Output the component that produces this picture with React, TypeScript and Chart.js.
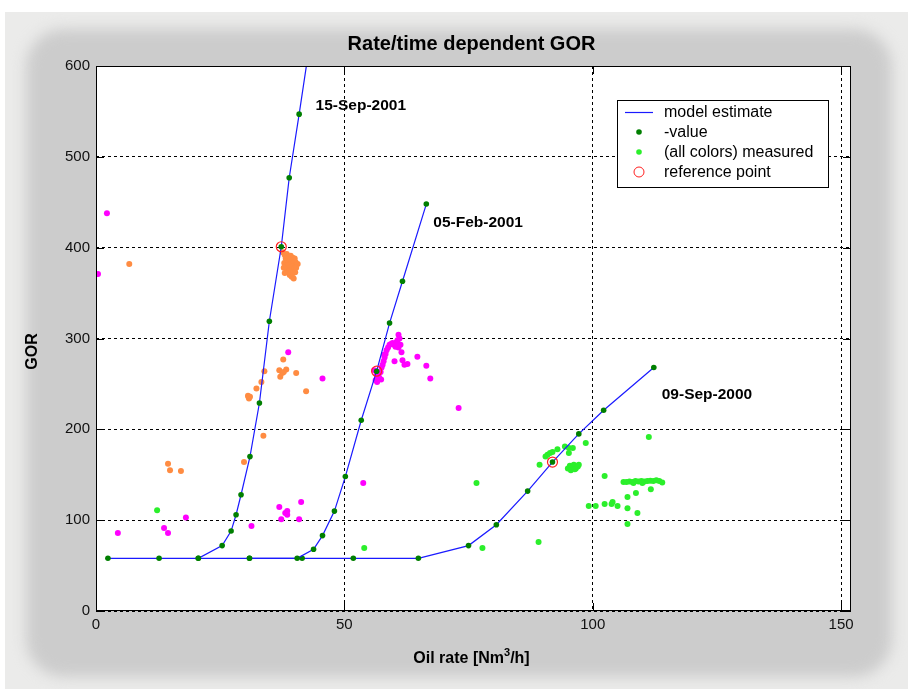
import React, { useEffect, useRef } from 'react';
import { Chart, registerables } from 'chart.js';

Chart.register(...registerables);

// ---------------- data ----------------
const xTicks = [0, 50, 100, 150];
const yTicks = [0, 100, 200, 300, 400, 500, 600];

const model15Sep2001 = [
  [2.4, 58], [12.7, 58], [20.6, 58], [25.4, 72], [27.2, 88], [28.2, 106], [29.2, 128],
  [31.0, 170], [32.9, 229], [34.9, 319], [37.3, 401], [38.9, 477], [40.9, 547], [42.9, 620],
];
const model05Feb2001 = [
  [20.6, 58], [30.9, 58], [40.5, 58], [43.8, 68], [45.6, 83], [48.0, 110], [50.2, 148],
  [53.4, 210], [56.5, 264], [59.1, 317], [61.7, 363], [66.5, 448],
];
const model09Sep2000 = [
  [30.9, 58], [41.5, 58], [51.8, 58], [64.9, 58], [75.0, 72], [80.6, 95], [86.9, 132],
  [91.9, 164], [97.2, 195], [102.2, 221], [112.3, 268],
];
const referencePoints = [[37.3, 401], [56.5, 264], [91.9, 164]];

const measured15Sep2001 = [
  [37.6, 395], [38.0, 392], [38.4, 393], [38.8, 390], [39.2, 391], [39.6, 389], [40.0, 388],
  [38.2, 388], [38.6, 385], [39.0, 386], [39.4, 384], [39.8, 383], [40.2, 384], [40.6, 382],
  [37.9, 383], [38.3, 380], [38.7, 381], [39.1, 378], [39.5, 379], [39.9, 377], [40.3, 378],
  [38.5, 375], [38.9, 374], [39.3, 373], [39.7, 372], [40.1, 373], [39.0, 370], [39.4, 368],
  [39.8, 366], [37.8, 378], [38.0, 372],
  [6.7, 382], [37.7, 277], [33.9, 264], [33.3, 252], [32.3, 245], [30.6, 237], [30.8, 234],
  [30.7, 235.5], [31.0, 236], [36.9, 265], [37.1, 258], [38.3, 266], [37.5, 262], [37.8, 263],
  [40.3, 262], [42.3, 242], [33.7, 193], [29.8, 164], [14.5, 162], [14.9, 155], [17.1, 154],
];
const measured05Feb2001 = [
  [2.2, 438], [0.4, 371], [38.7, 285], [45.6, 256], [4.4, 86], [13.7, 91.5], [14.5, 86],
  [18.1, 103], [31.3, 93.6], [36.9, 114.5], [37.3, 101], [38.1, 108], [38.5, 110], [38.5, 106],
  [40.9, 101], [41.3, 120], [53.8, 141], [73.0, 223.5], [60.1, 275], [64.7, 280], [66.5, 270],
  [67.3, 256],
  [56.0, 265], [56.3, 254], [56.5, 260], [56.8, 258], [57.0, 257], [57.3, 263], [57.5, 268],
  [57.7, 271], [57.9, 275], [58.1, 279], [58.3, 283], [58.5, 287], [58.8, 290], [59.1, 293],
  [59.4, 294], [59.7, 295], [60.0, 293], [60.3, 291], [60.5, 296], [60.7, 298], [60.9, 304],
  [61.1, 300], [61.3, 293], [61.5, 285], [61.7, 276], [62.1, 271], [62.7, 272], [57.0, 262],
  [57.4, 255], [56.6, 252], [58.0, 282], [60.9, 290],
];
const measured09Sep2000 = [
  [12.3, 111], [54.0, 69.4], [76.6, 141], [77.8, 69.4], [89.1, 76], [89.3, 161], [90.5, 170],
  [90.9, 172], [91.4, 174], [91.9, 175], [92.9, 178], [94.4, 181], [95.2, 179.5], [96.0, 179.5],
  [95.2, 174], [98.6, 185], [111.3, 191.6],
  [95.0, 157], [95.4, 160], [95.8, 158], [96.2, 161], [96.6, 157], [97.0, 159], [97.2, 161],
  [95.6, 155], [96.4, 156], [102.4, 148.6],
  [106.2, 142], [106.8, 142], [107.4, 142.5], [108.0, 142], [108.6, 143], [109.2, 142.5],
  [109.8, 143], [110.4, 142.5], [111.0, 143], [111.6, 143.5], [112.2, 143], [112.8, 144],
  [113.4, 143], [114.0, 141.5], [108.2, 141], [110.0, 141],
  [111.7, 134], [108.7, 130], [107.0, 125.6], [99.2, 115.6], [100.6, 115.6], [102.4, 117.8],
  [104.0, 120], [103.8, 117.8], [105.0, 115.6], [107.0, 113], [109.0, 108], [107.0, 95.8],
];

const curveLabels = ['15-Sep-2001', '05-Feb-2001', '09-Sep-2000'];
const curveLabelX = [44.2, 67.9, 113.9];
const curveLabelY = [556, 428, 238];

const legendLabels = ['model estimate', '-value', '(all colors) measured', 'reference point'];
const chartTitle = 'Rate/time dependent GOR';
const yTitle = 'GOR';

const FONT = "'Liberation Sans', Arial, Helvetica, sans-serif";
const BLUE = '#1a1aff';
const DKGREEN = '#007f00';
const LTGREEN = '#2bef2b';
const ORANGE = '#ff8c42';
const MAGENTA = '#ff00ff';
const RED = '#ff2020';

const toPts = (arr: number[][]) => arr.map(([x, y]) => ({ x, y }));

export default function App() {
  const ref = useRef<HTMLCanvasElement>(null);

  useEffect(() => {
    document.body.style.margin = '0';
    const canvas = ref.current!;

    const decor = {
      id: 'decor',
      beforeDraw(chart: any) {
        const { ctx, chartArea: a } = chart;
        ctx.save();
        ctx.fillStyle = '#ffffff';
        ctx.fillRect(0, 0, 908, 689);
        ctx.fillStyle = '#ebebea';
        ctx.fillRect(5, 12, 903, 677);
        ctx.filter = 'blur(7px)';
        ctx.fillStyle = '#cccccc';
        ctx.beginPath();
        ctx.roundRect(26, 29, 866, 648, 38);
        ctx.fill();
        ctx.filter = 'none';
        ctx.fillStyle = '#ffffff';
        ctx.fillRect(a.left, a.top, a.right - a.left, a.bottom - a.top);
        ctx.restore();
      },
      afterDraw(chart: any) {
        const { ctx, chartArea: a, scales } = chart;
        const xs = scales.x, ys = scales.y;
        ctx.save();
        // frame
        ctx.strokeStyle = '#000';
        ctx.lineWidth = 1;
        ctx.setLineDash([]);
        ctx.strokeRect(Math.round(a.left) + 0.5, Math.round(a.top) + 0.5,
          Math.round(a.right - a.left) - 1, Math.round(a.bottom - a.top) - 1);
        // inward tick marks
        ctx.beginPath();
        for (const v of xTicks) {
          const px = Math.round(xs.getPixelForValue(v)) + 0.5;
          ctx.moveTo(px, a.bottom); ctx.lineTo(px, a.bottom - 8);
          ctx.moveTo(px, a.top); ctx.lineTo(px, a.top + 8);
        }
        for (const v of yTicks) {
          const py = Math.round(ys.getPixelForValue(v)) + 0.5;
          ctx.moveTo(a.left, py); ctx.lineTo(a.left + 8, py);
          ctx.moveTo(a.right, py); ctx.lineTo(a.right - 8, py);
        }
        ctx.stroke();

        // curve labels
        ctx.fillStyle = '#000';
        ctx.font = `bold 15.5px ${FONT}`;
        ctx.textBaseline = 'middle';
        ctx.textAlign = 'left';
        curveLabels.forEach((t, i) => {
          ctx.fillText(t, xs.getPixelForValue(curveLabelX[i]), ys.getPixelForValue(curveLabelY[i]));
        });

        // title
        ctx.font = `bold 20px ${FONT}`;
        ctx.textAlign = 'center';
        ctx.fillText(chartTitle, (a.left + a.right) / 2 - 2, 44);

        // x title with superscript
        const cx = (a.left + a.right) / 2 - 2;
        const ty = 659;
        ctx.font = `bold 16px ${FONT}`;
        const p1 = 'Oil rate [Nm', p3 = '/h]';
        const w1 = ctx.measureText(p1).width;
        const w3 = ctx.measureText(p3).width;
        ctx.font = `bold 11px ${FONT}`;
        const w2 = ctx.measureText('3').width;
        const sx = cx - (w1 + w2 + w3) / 2;
        ctx.textAlign = 'left';
        ctx.font = `bold 16px ${FONT}`;
        ctx.fillText(p1, sx, ty);
        ctx.font = `bold 11px ${FONT}`;
        ctx.fillText('3', sx + w1, ty - 6);
        ctx.font = `bold 16px ${FONT}`;
        ctx.fillText(p3, sx + w1 + w2, ty);

        // y title
        ctx.save();
        ctx.translate(33, (a.top + a.bottom) / 2 + 13);
        ctx.rotate(-Math.PI / 2);
        ctx.textAlign = 'center';
        ctx.font = `bold 16px ${FONT}`;
        ctx.fillText(yTitle, 0, 0);
        ctx.restore();

        // legend
        const lx = a.right - 234, ly = a.top + 34, lw = 211, lh = 87;
        ctx.fillStyle = '#fff';
        ctx.fillRect(lx, ly, lw, lh);
        ctx.strokeStyle = '#000';
        ctx.strokeRect(Math.round(lx) + 0.5, Math.round(ly) + 0.5, lw, lh);
        const rowY = [ly + 12, ly + 32, ly + 52, ly + 72];
        const symX = lx + 22;
        ctx.strokeStyle = BLUE;
        ctx.lineWidth = 1.2;
        ctx.beginPath();
        ctx.moveTo(lx + 8, rowY[0] + 0.5); ctx.lineTo(lx + 36, rowY[0] + 0.5);
        ctx.stroke();
        ctx.lineWidth = 1;
        ctx.fillStyle = DKGREEN;
        ctx.beginPath(); ctx.arc(symX, rowY[1], 2.8, 0, Math.PI * 2); ctx.fill();
        ctx.fillStyle = LTGREEN;
        ctx.beginPath(); ctx.arc(symX, rowY[2], 2.8, 0, Math.PI * 2); ctx.fill();
        ctx.strokeStyle = RED;
        ctx.beginPath(); ctx.arc(symX, rowY[3], 5, 0, Math.PI * 2); ctx.stroke();
        ctx.fillStyle = '#000';
        ctx.font = `16px ${FONT}`;
        ctx.textAlign = 'left';
        ctx.textBaseline = 'middle';
        legendLabels.forEach((t, i) => ctx.fillText(t, lx + 47, rowY[i] + 1));
        ctx.restore();
      },
    };

    const modelDs = (data: number[][]) => ({
      data: toPts(data),
      showLine: true,
      borderColor: BLUE,
      borderWidth: 1.2,
      pointRadius: 2.8,
      pointBackgroundColor: DKGREEN,
      pointBorderColor: DKGREEN,
      pointBorderWidth: 0,
      clip: 0,
    });
    const measDs = (data: number[][], color: string) => ({
      data: toPts(data),
      showLine: false,
      pointRadius: 3,
      pointBackgroundColor: color,
      pointBorderColor: color,
      pointBorderWidth: 0,
    });

    const tickFont = { family: FONT, size: 15 };
    const chart = new Chart(canvas, {
      type: 'scatter',
      data: {
        datasets: [
          {
            data: toPts(referencePoints),
            showLine: false,
            pointRadius: 5,
            pointBackgroundColor: 'rgba(0,0,0,0)',
            pointBorderColor: RED,
            pointBorderWidth: 1.2,
          },
          modelDs(model15Sep2001),
          modelDs(model05Feb2001),
          modelDs(model09Sep2000),
          measDs(measured15Sep2001, ORANGE),
          measDs(measured05Feb2001, MAGENTA),
          measDs(measured09Sep2000, LTGREEN),
        ] as any,
      },
      options: {
        responsive: false,
        animation: false,
        layout: { padding: { left: 0, top: 66, right: 57, bottom: 48 } },
        plugins: {
          legend: { display: false },
          tooltip: { enabled: false },
          title: { display: false },
        },
        scales: {
          x: {
            type: 'linear',
            min: 0,
            max: 152,
            afterBuildTicks: (s: any) => { s.ticks = xTicks.map((v) => ({ value: v })); },
            afterFit: (s: any) => { s.height = 30; },
            ticks: { font: tickFont, color: '#111', padding: 5, maxRotation: 0 },
            grid: { color: '#000', lineWidth: 1, drawTicks: false },
            border: { display: false, dash: [3, 3] },
          },
          y: {
            type: 'linear',
            min: 0,
            max: 600,
            afterBuildTicks: (s: any) => { s.ticks = yTicks.map((v) => ({ value: v })); },
            afterFit: (s: any) => { s.width = 96; },
            ticks: { font: tickFont, color: '#111', padding: 6 },
            grid: { color: '#000', lineWidth: 1, drawTicks: false },
            border: { display: false, dash: [3, 3] },
          },
        },
      } as any,
      plugins: [decor],
    });
    return () => chart.destroy();
  }, []);

  return (
    <div style={{ width: 908, height: 689 }}>
      <canvas ref={ref} width={908} height={689} style={{ display: 'block' }} />
    </div>
  );
}
